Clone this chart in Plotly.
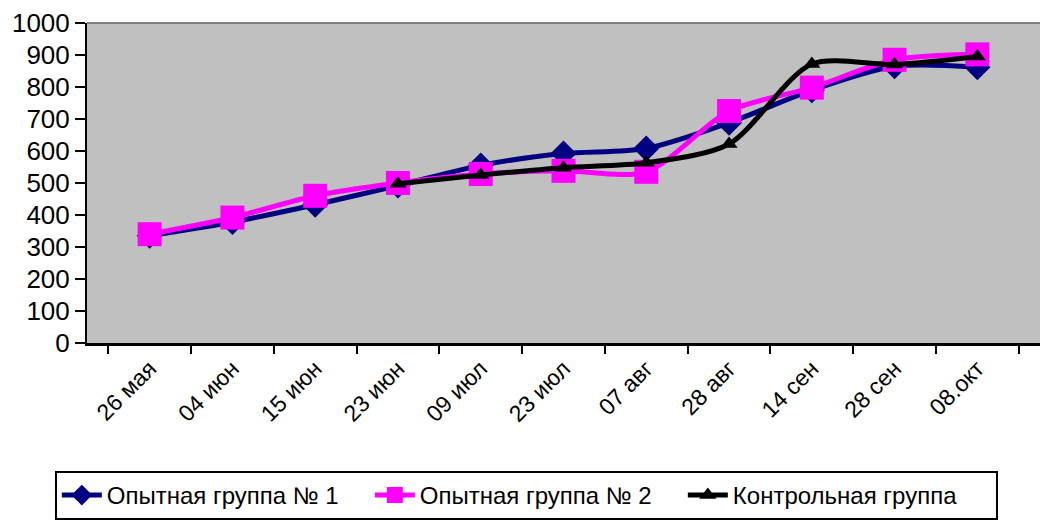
import plotly.graph_objects as go

dates = ["26 мая", "04 июн", "15 июн", "23 июн", "09 июл", "23 июл",
         "07 авг", "28 авг", "14 сен", "28 сен", "08.окт"]
group1 = [335, 378, 432, 492, 555, 592, 608, 688, 790, 865, 862]
group2 = [340, 392, 460, 500, 528, 538, 535, 725, 798, 885, 902]
control = [None, None, None, 498, 525, 548, 563, 622, 872, 870, 895]

names = ["Опытная группа № 1", "Опытная группа № 2", "Контрольная группа"]

fig = go.Figure()
fig.add_trace(go.Scatter(
    x=dates, y=group1, name=names[0], mode="lines+markers",
    line=dict(color="#000080", width=5, shape="spline", smoothing=0.8),
    marker=dict(symbol="diamond", size=20, color="#000080"),
))
fig.add_trace(go.Scatter(
    x=dates, y=group2, name=names[1], mode="lines+markers",
    line=dict(color="#ff00ff", width=5, shape="spline", smoothing=0.8),
    marker=dict(symbol="square", size=24, color="#ff00ff"),
))
fig.add_trace(go.Scatter(
    x=dates, y=control, name=names[2], mode="lines+markers",
    line=dict(color="#000000", width=5, shape="spline", smoothing=0.8),
    marker=dict(symbol="triangle-up", size=15, color="#000000"),
))

fig.update_layout(
    width=1042, height=520,
    margin=dict(l=87, r=2, t=23, b=177, autoexpand=False),
    paper_bgcolor="white", plot_bgcolor="#c0c0c0",
    font=dict(family="Liberation Sans, Arial, sans-serif", color="black"),
    showlegend=True,
    legend=dict(orientation="h", x=0.461, xanchor="center", y=-0.40, yanchor="top",
                font=dict(family="Liberation Sans, Arial", size=24),
                bordercolor="black", borderwidth=2, bgcolor="white",
                itemwidth=40, tracegroupgap=0,
                entrywidth=258, entrywidthmode="pixels"),
    shapes=[dict(type="line", xref="paper", yref="paper", x0=0, x1=1, y0=1, y1=1,
                 line=dict(color="#808080", width=2))],
)
fig.update_xaxes(
    type="category", tickson="boundaries", ticks="outside", ticklen=8,
    tickwidth=2, tickcolor="black", showline=True, linecolor="black", linewidth=3,
    showgrid=False, tickangle=-45, tickfont=dict(size=23), zeroline=False,
)
fig.update_yaxes(
    range=[0, 1000], dtick=100, ticks="outside", ticklen=10, tickwidth=2,
    tickcolor="black", showline=True, linecolor="black", linewidth=2,
    showgrid=False, zeroline=False, tickfont=dict(size=26),
)

fig.write_html("out.html", config={"displayModeBar": False},
               post_script="document.body.style.margin='0';")
